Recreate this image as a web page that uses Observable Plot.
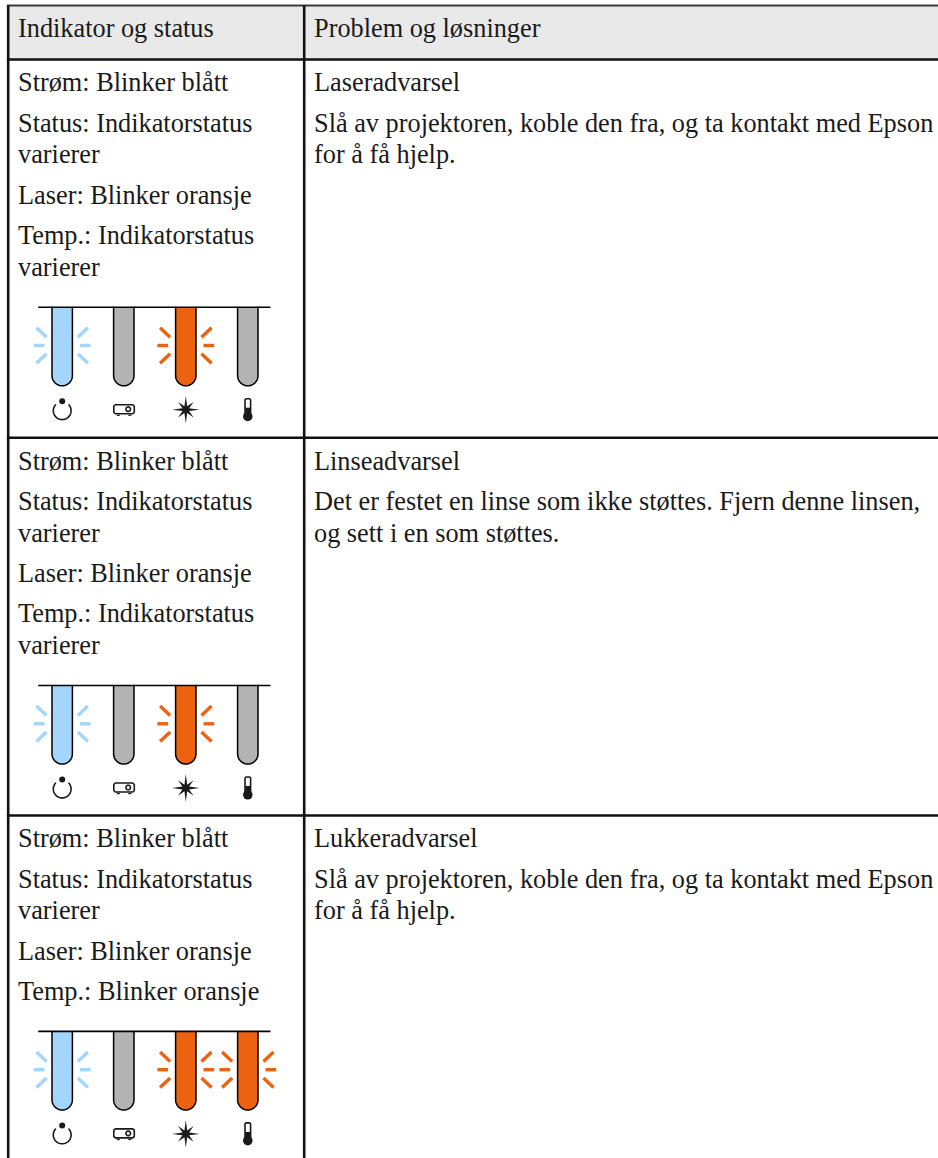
<!DOCTYPE html>
<html>
<head>
<meta charset="utf-8">
<script src="https://cdn.jsdelivr.net/npm/d3@7"></script>
<script src="https://cdn.jsdelivr.net/npm/@observablehq/plot@0.6"></script>
<style>
html,body{margin:0;padding:0;background:#fff;overflow:hidden}
svg{display:block}
</style>
</head>
<body>
<div id="chart"></div>
<script>
// ---- content ----
const headers = ["Indikator og status", "Problem og løsninger"];
const statusLines = [
  ["Strøm: Blinker blått", "Status: Indikatorstatus|varierer", "Laser: Blinker oransje", "Temp.: Indikatorstatus|varierer"],
  ["Strøm: Blinker blått", "Status: Indikatorstatus|varierer", "Laser: Blinker oransje", "Temp.: Indikatorstatus|varierer"],
  ["Strøm: Blinker blått", "Status: Indikatorstatus|varierer", "Laser: Blinker oransje", "Temp.: Blinker oransje"]
];
const problemTitles = ["Laseradvarsel", "Linseadvarsel", "Lukkeradvarsel"];
const problemTexts = [
  ["Slå av projektoren, koble den fra, og ta kontakt med Epson", "for å få hjelp."],
  ["Det er festet en linse som ikke støttes. Fjern denne linsen,", "og sett i en som støttes."],
  ["Slå av projektoren, koble den fra, og ta kontakt med Epson", "for å få hjelp."]
];
// indicator state per row: power, status, laser, temp
const indicatorStates = [
  ["blue", "off", "orange", "off"],
  ["blue", "off", "orange", "off"],
  ["blue", "off", "orange", "orange"]
];
const flashing = ["blue", "orange"];

// ---- style & layout ----
const colors = {blue: "#a3d6ff", orange: "#ec6211", off: "#b3b3b3", ink: "#1a1a1a", head: "#e9e9e9", rule: "#111111"};
const L = {
  W: 938, H: 1158, left: 7.7, split: 303.7, top: 5, headBottom: 59,
  rowTop: [59, 437.3, 815], textX: 17.5, textX2: 313.5,
  firstBase: 31.7, para: 40.3, line: 31.8, headBase: 36.5,
  lampX: [61.7, 123.3, 185.3, 247.3], lampR: 10.2, lampDrop: 78.6,
  railGap: 31.5, railX: [37.7, 270]
};

// ---- derive geometry ----
const texts = [], tubes = [], rays = [], rails = [], rules = [], ring = [], dots = [], solids = [];
headers.forEach((t, i) => texts.push({x: i ? L.textX2 : L.textX, y: L.headBase, t}));
let key = 0;
statusLines.forEach((paras, r) => {
  let y = L.rowTop[r] + L.firstBase;
  paras.forEach((p) => {
    p.split("|").forEach((ln, li) => {
      if (li) y += L.line;
      texts.push({x: L.textX, y, t: ln});
    });
    y += L.para;
  });
  const rail = y - L.para + L.railGap;
  rails.push({x1: L.railX[0], x2: L.railX[1], y: rail});
  let y2 = L.rowTop[r] + L.firstBase;
  texts.push({x: L.textX2, y: y2, t: problemTitles[r]});
  y2 += L.para;
  problemTexts[r].forEach((ln, li) => texts.push({x: L.textX2, y: y2 + li * L.line, t: ln}));

  indicatorStates[r].forEach((s, i) => {
    const cx = L.lampX[i], yb = rail + L.lampDrop - L.lampR, id = key++;
    const fill = colors[s];
    tubes.push({id, x: cx - L.lampR, y: rail, fill});
    d3.range(0, 25).forEach(k => {
      const a = Math.PI - k * Math.PI / 24;
      tubes.push({id, x: cx + L.lampR * Math.cos(a), y: yb + L.lampR * Math.sin(a), fill});
    });
    tubes.push({id, x: cx + L.lampR, y: rail, fill});
    if (flashing.includes(s)) {
      const ym = rail + 38.3;
      [-1, 1].forEach(sd => {
        rays.push({x1: cx + sd * 17.7, x2: cx + sd * 28.4, y1: ym, y2: ym, c: fill});
        [-1, 1].forEach(v => rays.push({x1: cx + sd * 15.7, x2: cx + sd * 25.7, y1: ym + v * 8.3, y2: ym + v * 17.7, c: fill}));
      });
    }
    const ic = rail + 102.5;
    if (i === 0) {
      const id2 = key++;
      d3.range(0, 41).forEach(k => {
        const a = -Math.PI / 2 + 0.85 + k * (2 * Math.PI - 1.7) / 40;
        ring.push({id: id2, x: cx + 8.9 * Math.cos(a), y: ic + 1 + 8.9 * Math.sin(a)});
      });
      dots.push({x: cx, y: ic - 8.4, r: 1.9});
    } else if (i === 1) {
      const id2 = key++, x0 = cx - 10, x1 = cx + 10.5, y0 = ic - 5, y1 = ic + 4;
      [[x0+1.5,y0],[x1-1.5,y0],[x1,y0+1.5],[x1,y1-1.5],[x1-1.5,y1],[x0+1.5,y1],[x0,y1-1.5],[x0,y0+1.5],[x0+1.5,y0]]
        .forEach(([x, y]) => ring.push({id: id2, x, y}));
      const id3 = key++;
      d3.range(0, 21).forEach(k => ring.push({id: id3, x: cx + 4.4 + 2.3 * Math.cos(k * Math.PI / 10), y: ic - 0.5 + 2.3 * Math.sin(k * Math.PI / 10)}));
      rules.push({x1: x0 + 3, x2: x0 + 6, y1: y1 + 1.6, y2: y1 + 1.6, w: 1.2, c: colors.ink});
      rules.push({x1: x1 - 6, x2: x1 - 3, y1: y1 + 1.6, y2: y1 + 1.6, w: 1.2, c: colors.ink});
    } else if (i === 2) {
      const id2 = key++;
      d3.range(0, 17).forEach(k => {
        const a = k * Math.PI / 8 - Math.PI / 2;
        const rr = k % 2 ? 3.6 : (k % 4 === 0 ? 13.8 : 11);
        solids.push({id: id2, x: cx + rr * Math.cos(a), y: ic + rr * Math.sin(a)});
      });
    } else {
      const id2 = key++;
      const sw = 2.8, top = ic - 11, by = ic + 6.8;
      [[cx - sw, by],[cx - sw, top + 1],[cx - sw + 1, top],[cx + sw - 1, top],[cx + sw, top + 1],[cx + sw, by]]
        .forEach(([x, y]) => ring.push({id: id2, x, y}));
      dots.push({x: cx, y: by, r: 4.8});
      rules.push({x1: cx, x2: cx, y1: ic - 2, y2: by, w: 5, c: colors.ink});
    }
  });
});

// table rules
const gridH = [L.top, L.headBottom, L.rowTop[1], L.rowTop[2]].map((y, i) => ({x1: L.left - 1.3, x2: L.W, y1: y, y2: y, w: i ? 2.6 : 2, c: i ? colors.rule : "#3a3a3a"}));
const gridV = [L.left, L.split].map(x => ({x1: x, x2: x, y1: L.top, y2: L.H, w: 2.6, c: colors.rule}));

const plot = Plot.plot({
  width: L.W, height: L.H,
  margin: 0,
  x: {type: "identity", axis: null},
  y: {type: "identity", axis: null},
  marks: [
    Plot.rect([{x1: L.left, x2: L.W, y1: L.top, y2: L.headBottom}], {x1: "x1", x2: "x2", y1: "y1", y2: "y2", fill: colors.head}),
    Plot.link([...gridH, ...gridV], {x1: "x1", x2: "x2", y1: "y1", y2: "y2", stroke: "c", strokeWidth: "w", strokeLinecap: "butt"}),
    Plot.line(tubes, {x: "x", y: "y", z: "id", fill: "fill", stroke: "#000", strokeWidth: 1.5, curve: "linear"}),
    Plot.link(rails, {x1: "x1", x2: "x2", y1: "y", y2: "y", stroke: "#000", strokeWidth: 1.6}),
    Plot.link(rays, {x1: "x1", x2: "x2", y1: "y1", y2: "y2", stroke: "c", strokeWidth: 3.4, strokeLinecap: "butt"}),
    Plot.link(rules, {x1: "x1", x2: "x2", y1: "y1", y2: "y2", stroke: "c", strokeWidth: "w"}),
    Plot.line(ring, {x: "x", y: "y", z: "id", stroke: colors.ink, strokeWidth: 1.6, curve: "linear"}),
    Plot.line(solids, {x: "x", y: "y", z: "id", fill: colors.ink, stroke: "none", curve: "linear"}),
    Plot.dot(dots, {x: "x", y: "y", r: "r", fill: colors.ink, stroke: "none"}),
    Plot.text(texts, {x: "x", y: "y", text: "t", textAnchor: "start", lineAnchor: "bottom", fill: colors.ink,
      fontFamily: "'Liberation Serif', serif", fontSize: 26.3})
  ]
});
document.getElementById("chart").appendChild(plot);
</script>
</body>
</html>
